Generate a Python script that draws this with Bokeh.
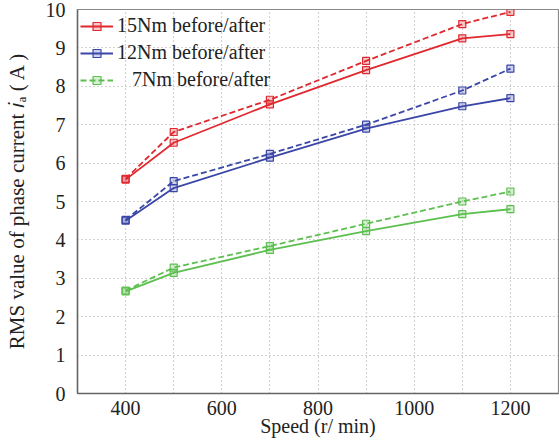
from bokeh.plotting import figure
from bokeh.models import Range1d, FixedTicker, Legend, LegendItem
from bokeh.embed import file_html
from bokeh.resources import INLINE

# ---- data ----
speed = [400, 500, 700, 900, 1100, 1200]
i15_before = [5.57, 6.53, 7.53, 8.42, 9.25, 9.36]
i15_after = [5.59, 6.81, 7.65, 8.66, 9.62, 9.94]
i12_before = [4.50, 5.35, 6.14, 6.90, 7.48, 7.69]
i12_after = [4.52, 5.53, 6.24, 7.00, 7.89, 8.46]
i7_before = [2.66, 3.14, 3.74, 4.23, 4.67, 4.80]
i7_after = [2.68, 3.28, 3.84, 4.42, 5.00, 5.26]
x_ticks = [400, 600, 800, 1000, 1200]
x_grid = [400, 500, 600, 700, 800, 900, 1000, 1100, 1200]
y_ticks = [0, 1, 2, 3, 4, 5, 6, 7, 8, 9, 10]
legend_labels = ["15Nm before/after", "12Nm before/after", "\u2007 7Nm before/after"]
x_title = "Speed (r/ min)"
y_title = "RMS value of phase current \U0001D456\u2090 (\u2009A\u2009)"

RED = "#e0282e"
BLUE = "#3a46a8"
GREEN = "#5cbf50"
FONT = "Liberation Serif"

p = figure(width=559, height=442, output_backend="svg", toolbar_location=None,
           x_range=Range1d(300, 1300), y_range=Range1d(0, 10),
           min_border_left=77, min_border_right=1, min_border_top=9, min_border_bottom=49)
p.background_fill_color = "white"
p.border_fill_color = "white"
p.outline_line_color = "#8a8a8a"
p.outline_line_width = 1.2

for ax in (p.xaxis[0], p.yaxis[0]):
    ax.major_tick_line_color = None
    ax.minor_tick_line_color = None
    ax.axis_line_color = "#666666"
    ax.axis_line_width = 1.5
    ax.major_label_text_font = FONT
    ax.major_label_text_font_size = "20px"
    ax.major_label_text_color = "#222222"
    ax.axis_label_text_font = FONT
    ax.axis_label_text_font_style = "normal"
    ax.axis_label_text_color = "#222222"

p.xaxis.axis_label_text_font_size = "20px"
p.yaxis.axis_label_text_font_size = "21px"
p.xaxis.ticker = FixedTicker(ticks=x_ticks)
p.yaxis.ticker = FixedTicker(ticks=y_ticks)
p.xaxis.major_label_standoff = 1
p.yaxis.major_label_standoff = 6
p.xaxis.axis_label = x_title
p.yaxis.axis_label = y_title
p.xaxis.axis_label_standoff = -3
p.yaxis.axis_label_standoff = 14

p.xgrid.ticker = FixedTicker(ticks=x_grid)
p.ygrid.ticker = FixedTicker(ticks=y_ticks[1:-1])
for g in (p.xgrid[0], p.ygrid[0]):
    g.grid_line_color = "#aaaaaa"
    g.grid_line_dash = "1 3"
    g.grid_line_width = 1.2

items = []
series = [(i15_before, i15_after, RED), (i12_before, i12_after, BLUE), (i7_before, i7_after, GREEN)]
for k, (b, a, c) in enumerate(series):
    lb = p.line(speed, b, line_color=c, line_width=1.8)
    sb = p.scatter(speed, b, marker="square", size=7, line_color=c, fill_color=c, fill_alpha=0.25, line_width=1.2)
    la = p.line(speed, a, line_color=c, line_width=1.8, line_dash="6 3")
    sa = p.scatter(speed, a, marker="square", size=7, line_color=c, fill_color=c, fill_alpha=0.25, line_width=1.2)
    if k < 2:
        items.append(LegendItem(label=legend_labels[k], renderers=[lb, sb]))
    else:
        items.append(LegendItem(label=legend_labels[k], renderers=[la, sa]))

leg = Legend(items=items, location=(0, 297), margin=0, padding=3, spacing=0,
             label_height=27, glyph_height=20, glyph_width=33, label_standoff=4,
             label_text_font=FONT, label_text_font_size="20px", label_text_color="#222222",
             border_line_alpha=0, background_fill_alpha=0)
p.add_layout(leg)

open("out.html", "w").write(file_html(p, INLINE))
